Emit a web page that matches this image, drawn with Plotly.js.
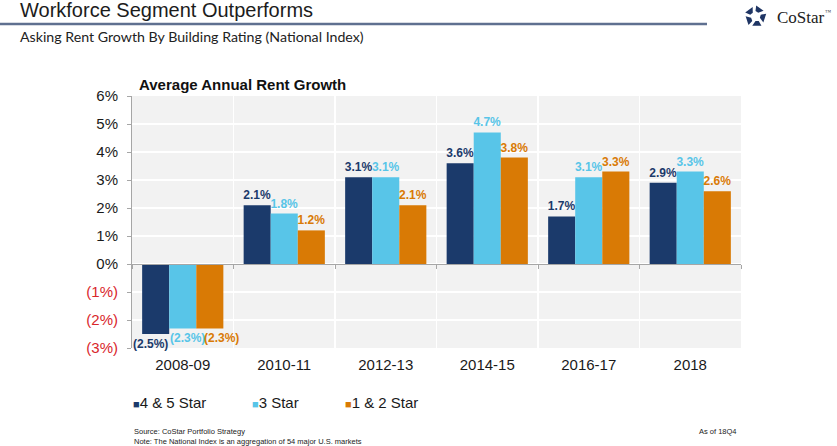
<!DOCTYPE html>
<html>
<head>
<meta charset="utf-8">
<script src="https://cdn.plot.ly/plotly-3.0.1.min.js"></script>
<style>
html,body{margin:0;padding:0;background:#fff;}
#chart{width:837px;height:446px;}
</style>
</head>
<body>
<div id="chart"></div>
<script>
// ---- data ----
const categories = ['2008-09', '2010-11', '2012-13', '2014-15', '2016-17', '2018'];
const star45 = [-2.5, 2.1, 3.1, 3.6, 1.7, 2.9];
const star3  = [-2.3, 1.8, 3.1, 4.7, 3.1, 3.3];
const star12 = [-2.3, 1.2, 2.1, 3.8, 3.3, 2.6];
const seriesNames = ['4 & 5 Star', '3 Star', '1 & 2 Star'];
const yTickVals = [-3, -2, -1, 0, 1, 2, 3, 4, 5, 6];

// ---- styling ----
const colors = ['#1b3a6b', '#58c5e8', '#d97a05'];
const negColor = '#d9262b';
const W = 837, H = 446;
const M = {l: 132, r: 96, t: 96, b: 98};
const PW = W - M.l - M.r, PH = H - M.t - M.b;
const yRange = [-3, 6];
const bargap = 0.2;
const px = x => (x - M.l) / PW;
const py = y => (H - M.b - y) / PH;

const fmt = v => v < 0 ? '(' + Math.abs(v).toFixed(1) + '%)' : v.toFixed(1) + '%';
const tickFmt = v => v < 0 ? '<span style="color:' + negColor + '">(' + Math.abs(v) + '%)</span>' : v + '%';
const labelFont = c => ({family: 'Liberation Sans, Arial, sans-serif', size: 12, color: c, weight: 'bold'});

const seriesVals = [star45, star3, star12];
const traces = seriesVals.map((vals, i) => ({
  type: 'bar',
  name: seriesNames[i],
  x: categories,
  y: vals,
  marker: {color: colors[i], line: {width: 0}},
  text: vals.map(fmt),
  textposition: vals.map(v => v < 0 ? 'none' : 'outside'),
  textfont: labelFont(colors[i]),
  constraintext: 'none',
  cliponaxis: false,
  hoverinfo: 'x+y+name',
  showlegend: false
}));
// helper trace for the zero-line axis with boundary ticks
traces.push({
  type: 'scatter', mode: 'none', x: categories, y: star45,
  xaxis: 'x2', hoverinfo: 'skip', showlegend: false
});

const legendX = [133, 252, 345];
const annotations = [
  {text: 'Workforce Segment Outperforms', x: px(18), y: py(10), xanchor: 'left', yanchor: 'middle',
   font: {family: 'Liberation Sans, Arial, sans-serif', size: 20, color: '#1c1c1c'}},
  {text: 'Asking Rent Growth By Building Rating (National Index)', x: px(18), y: py(37), xanchor: 'left', yanchor: 'middle',
   font: {family: 'Lato, sans-serif', size: 14.2, color: '#222'}},
  {text: '<b>Average Annual Rent Growth</b>', x: px(137), y: py(85), xanchor: 'left', yanchor: 'middle',
   font: {family: 'Liberation Sans, Arial, sans-serif', size: 15, color: '#111'}},
  {text: 'CoStar', x: px(775), y: py(17), xanchor: 'left', yanchor: 'middle',
   font: {family: 'Liberation Serif, Times New Roman, serif', size: 17, color: '#222'}},
  {text: '™', x: px(823), y: py(12), xanchor: 'left', yanchor: 'middle',
   font: {family: 'Liberation Serif, Times New Roman, serif', size: 6, color: '#444'}},
  {text: 'Source: CoStar Portfolio Strategy', x: px(132), y: py(431), xanchor: 'left', yanchor: 'middle',
   font: {family: 'Liberation Sans, Arial, sans-serif', size: 7.5, color: '#222'}},
  {text: 'Note: The National Index is an aggregation of 54 major U.S. markets', x: px(132), y: py(441), xanchor: 'left', yanchor: 'middle',
   font: {family: 'Liberation Sans, Arial, sans-serif', size: 7.5, color: '#222'}},
  {text: 'As of 18Q4', x: px(697), y: py(431), xanchor: 'left', yanchor: 'middle',
   font: {family: 'Liberation Sans, Arial, sans-serif', size: 7.5, color: '#222'}}
];
seriesNames.forEach((n, i) => {
  annotations.push({
    text: '<span style="color:' + colors[i] + ';font-size:11px">■</span>' + n,
    x: px(legendX[i] - 2), y: py(402), xanchor: 'left', yanchor: 'middle',
    font: {family: 'Liberation Sans, Arial, sans-serif', size: 15, color: '#1a1a1a'}
  });
});
annotations.forEach(a => { a.xref = 'paper'; a.yref = 'paper'; a.showarrow = false; });

// negative-value labels: laid out side by side beneath the bars
const barW = (1 - bargap) / seriesVals.length;
const negAnchor = ['right', 'left', 'left'];
const negEdge = [0.5, -0.5, -0.5];
const negShift = [1, -1, 6];
seriesVals.forEach((vals, i) => {
  vals.forEach((v, k) => {
    if (v >= 0) return;
    annotations.push({
      xref: 'x', yref: 'y', showarrow: false,
      x: k + (i - (seriesVals.length - 1) / 2) * barW + negEdge[i] * barW,
      y: v, xanchor: negAnchor[i], yanchor: 'top', xshift: negShift[i], yshift: -1,
      text: '<b>' + fmt(v) + '</b>', font: labelFont(colors[i])
    });
  });
});

// CoStar logo icon
const cx = 50, cy = 54, R = 50, r = 20;
const P = k => { const a = (-90 + 72 * k) * Math.PI / 180; return [cx + R * Math.cos(a), cy + R * Math.sin(a)]; };
const Q = k => { const a = (-90 + 72 * k + 36) * Math.PI / 180; return [cx + r * Math.cos(a), cy + r * Math.sin(a)]; };
const lerp = (a, b, t) => [a[0] + (b[0] - a[0]) * t, a[1] + (b[1] - a[1]) * t];
let pieces = '';
for (let i = 0; i < 5; i++) {
  const p0 = P(i), p1 = P(i + 1);
  const pts = [lerp(p0, p1, 0.06), lerp(p0, p1, 0.74), Q(i), lerp(p0, [cx, cy], 0.52)];
  pieces += '<polygon points="' + pts.map(p => p[0].toFixed(1) + ',' + p[1].toFixed(1)).join(' ') + '" fill="#1f3564"/>';
}
const svg = '<svg xmlns="http://www.w3.org/2000/svg" viewBox="0 0 100 100">' + pieces + '</svg>';
const logoSrc = 'data:image/svg+xml;charset=utf-8,' + encodeURIComponent(svg);

const layout = {
  width: W, height: H,
  margin: M,
  paper_bgcolor: '#ffffff',
  plot_bgcolor: '#f2f2f2',
  barmode: 'group',
  bargap: bargap,
  bargroupgap: 0,
  showlegend: false,
  font: {family: 'Liberation Sans, Arial, sans-serif', color: '#1a1a1a'},
  xaxis: {
    type: 'category', range: [-0.5, categories.length - 0.5],
    tickson: 'boundaries', ticks: '', showline: false,
    showgrid: true, gridcolor: '#ffffff', gridwidth: 1.5,
    tickfont: {size: 15, color: '#1a1a1a'}, ticklabelstandoff: 6,
    zeroline: false, fixedrange: true
  },
  xaxis2: {
    type: 'category', overlaying: 'x', anchor: 'free',
    position: (0 - yRange[0]) / (yRange[1] - yRange[0]),
    range: [-0.5, categories.length - 0.5],
    tickson: 'boundaries', ticks: 'outside', ticklen: 4, tickcolor: '#a6a6a6',
    showline: true, linecolor: '#a6a6a6', linewidth: 1,
    showticklabels: false, showgrid: false, zeroline: false
  },
  yaxis: {
    range: yRange, tickvals: yTickVals, ticktext: yTickVals.map(tickFmt),
    ticks: 'outside', ticklen: 4, tickcolor: '#a6a6a6',
    showline: true, linecolor: '#a6a6a6', linewidth: 1,
    showgrid: true, gridcolor: '#ffffff', gridwidth: 1.5,
    zeroline: false, tickfont: {size: 15, color: '#1a1a1a'},
    ticklabelstandoff: 6, fixedrange: true
  },
  shapes: [
    {type: 'line', xref: 'paper', yref: 'paper', x0: px(0), x1: px(707), y0: py(24), y1: py(24),
     line: {color: '#5f7090', width: 2.5}}
  ],
  images: [
    {source: logoSrc, xref: 'paper', yref: 'paper', x: px(744), y: py(4), sizex: 23 / PW, sizey: 23 / PH,
     xanchor: 'left', yanchor: 'top', sizing: 'stretch', layer: 'above'}
  ],
  annotations: annotations
};

Plotly.newPlot('chart', traces, layout, {displayModeBar: false, staticPlot: true});
</script>
</body>
</html>
